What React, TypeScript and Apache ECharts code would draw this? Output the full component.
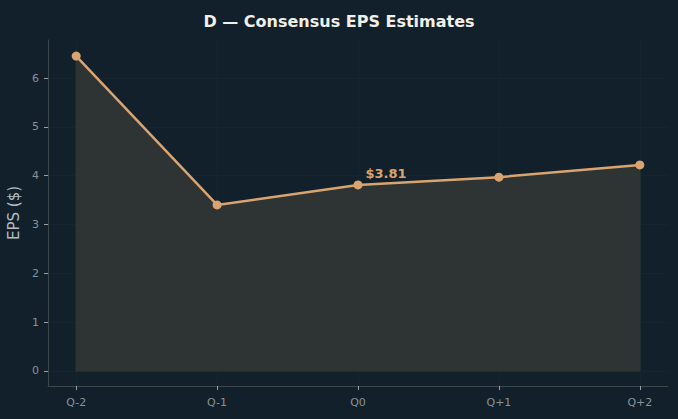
import React, { useEffect, useRef } from "react";
import * as echarts from "echarts";

const categories = ["Q-2", "Q-1", "Q0", "Q+1", "Q+2"];
const epsValues = [6.45, 3.4, 3.81, 3.97, 4.22];
const yTicks = [0, 1, 2, 3, 4, 5, 6];
const highlightIndex = 2;
const highlightLabel = "$3.81";

export default function App() {
  const ref = useRef<HTMLDivElement>(null);
  useEffect(() => {
    document.body.style.margin = "0";
    document.body.style.background = "#11202a";
    if (!ref.current) return;
    const chart = echarts.init(ref.current, null, { renderer: "svg" });
    const xIdx = categories.map((_, i) => i);
    const lineData = epsValues.map((v, i) => [i, v]);
    const last = epsValues.length - 1;
    const edgeData = [[0, epsValues[0]], [0, 0], [last, 0], [last, epsValues[last]]];
    chart.setOption({
      animation: false,
      backgroundColor: "#11202a",
      title: {
        text: "D — Consensus EPS Estimates",
        left: "center",
        top: 8,
        textStyle: { color: "#f2efe8", fontSize: 16, fontWeight: "bold", fontFamily: "DejaVu Sans" },
      },
      grid: { left: 48, right: 10, top: 40, bottom: 33, outerBoundsMode: "none", containLabel: false },
      xAxis: {
        type: "value",
        min: -0.2,
        max: last + 0.2,
        axisLine: { show: true, onZero: false, lineStyle: { color: "#3c474c", width: 1 } },
        axisTick: { show: true, customValues: xIdx, length: 4, lineStyle: { color: "#9aa2a6" } },
        axisLabel: {
          customValues: xIdx,
          formatter: (v: number) => categories[Math.round(v)] ?? "",
          color: "#8a9296",
          fontSize: 11,
          fontFamily: "DejaVu Sans",
          margin: 11,
        },
        splitLine: { show: true, customValues: xIdx, lineStyle: { color: "#15252e", width: 1 } },
      },
      yAxis: {
        type: "value",
        min: -0.31,
        max: 6.78,
        name: "EPS ($)",
        nameLocation: "middle",
        nameGap: 21,
        nameTextStyle: { color: "#b4bcc0", fontSize: 15, fontFamily: "DejaVu Sans" },
        axisLine: { show: true, onZero: false, lineStyle: { color: "#3c474c", width: 1 } },
        axisTick: { show: true, customValues: yTicks, length: 4, lineStyle: { color: "#9aa2a6" } },
        axisLabel: {
          customValues: yTicks,
          color: "#8a9296",
          fontSize: 11,
          fontFamily: "DejaVu Sans",
          margin: 9,
        },
        splitLine: { show: true, customValues: yTicks, lineStyle: { color: "#15252e", width: 1 } },
      },
      series: [
        {
          type: "line",
          data: edgeData,
          symbol: "none",
          silent: true,
          lineStyle: { color: "#3a403f", width: 1 },
          z: 1,
        },
        {
          type: "line",
          data: lineData,
          symbol: "circle",
          symbolSize: 9,
          itemStyle: { color: "#d9a470" },
          lineStyle: { color: "#d9a470", width: 2.5 },
          areaStyle: { color: "#2e3433", opacity: 1, origin: 0 },
          z: 2,
          label: {
            show: true,
            formatter: (p: any) => (p.dataIndex === highlightIndex ? highlightLabel : ""),
            position: "right",
            offset: [-2, -11],
            color: "#d9a470",
            fontWeight: "bold",
            fontSize: 13,
            fontFamily: "DejaVu Sans",
          },
        },
      ],
    });
    return () => chart.dispose();
  }, []);
  return <div ref={ref} style={{ width: 678, height: 419 }} />;
}
